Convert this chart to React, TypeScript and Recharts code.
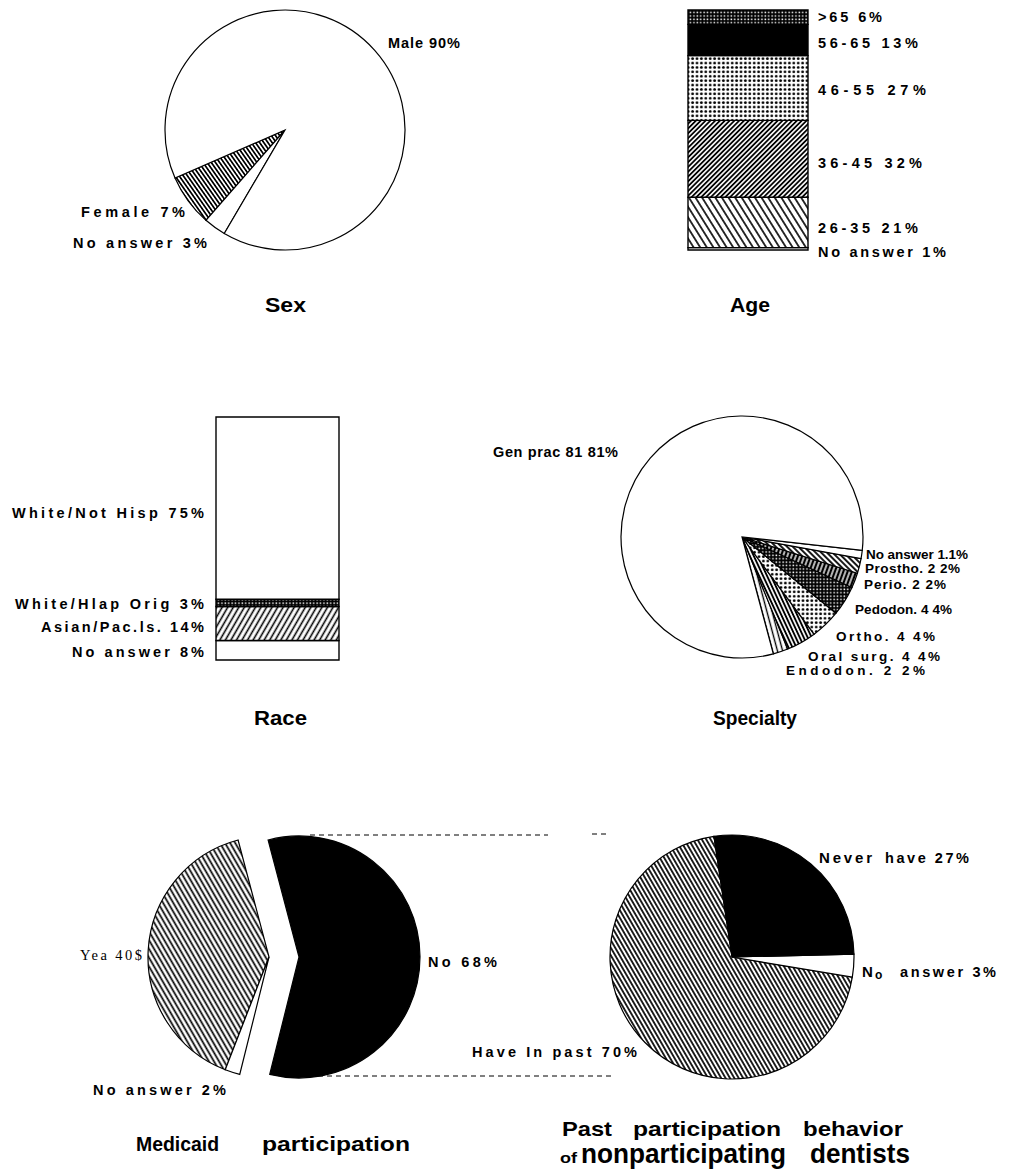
import React from 'react';
import { PieChart, Pie, Cell, BarChart, Bar, XAxis, YAxis } from 'recharts';

// ---------- DATA ----------
const sexNames = ['Female', 'No answer', 'Male'];
const sexValues = [7, 3, 90];
const sexLabels = ['Female 7%', 'No answer 3%', 'Male 90%'];

const ageGroups = ['No answer', '26-35', '36-45', '46-55', '56-65', '>65'];
const ageValues = [1, 21, 32, 27, 13, 6];
const ageLabels = ['No answer 1%', '26-35 21%', '36-45 32%', '46-55 27%', '56-65 13%', '>65 6%'];

const raceGroups = ['No answer', 'Asian/Pac.Is.', 'White/Hisp Orig', 'White/Not Hisp'];
const raceValues = [8, 14, 3, 75];
const raceLabels = ['No answer 8%', 'Asian/Pac.ls. 14%', 'White/Hlap Orig 3%', 'White/Not Hisp 75%'];

const specNames = ['Endodon.', 'Oral surg.', 'Ortho.', 'Pedodon.', 'Perio.', 'Prostho.', 'No answer', 'Gen prac'];
const specValues = [2, 4, 4, 4, 2, 2, 1.1, 81];
const specLabels = ['Endodon. 2 2%', 'Oral surg. 4 4%', 'Ortho. 4 4%', 'Pedodon. 4 4%', 'Perio. 2 2%', 'Prostho. 2 2%', 'No answer 1.1%', 'Gen prac 81 81%'];

const medNames = ['No', 'Yea', 'No answer'];
const medValues = [58, 40, 2];
const medLabels = ['No 68%', 'Yea 40$', 'No answer 2%'];

const pastNames = ['Have in past', 'No answer', 'Never have'];
const pastValues = [70, 3, 27];
const pastLabels = ['Have In past 70%', 'answer 3%', 'have 27%'];

const titles = ['Sex', 'Age', 'Race', 'Specialty', 'Medicaid', 'participation', 'Past', 'participation', 'behavior', 'of', 'nonparticipating', 'dentists'];

// ---------- STYLES ----------
const sexFills = ['url(#hSex)', '#fff', '#fff'];
const ageFills = ['#fff', 'url(#hAge2635)', 'url(#hAge3645)', 'url(#dots)', '#000', 'url(#checker)'];
const raceFills = ['#fff', 'url(#hAsian)', 'url(#checker)', '#fff'];
const specFills = ['url(#hEndo)', 'url(#hOral)', 'url(#dots)', 'url(#checker)', 'url(#hPerio)', 'url(#hPros)', '#fff', '#fff'];
const medFills = ['#000', 'url(#hYea)', '#fff'];
const pastFills = ['url(#hPast)', '#fff', '#000'];

const LBL = "'Liberation Sans', Arial, sans-serif";
const TTL = "'Liberation Sans Narrow', 'Arial Narrow', 'Liberation Sans', Arial, sans-serif";

const toRows = (names: string[], values: number[]) => names.map((n, i) => ({ name: n, value: values[i] }));
const toStack = (values: number[]) => {
  const row: Record<string, any> = { name: 'c' };
  values.forEach((v, i) => { row['s' + i] = v; });
  return [row];
};

const Hatch = ({ id, angle, gap, w }: { id: string; angle: number; gap: number; w: number }) => (
  <pattern id={id} width={gap} height={gap} patternUnits="userSpaceOnUse" patternTransform={`rotate(${angle})`}>
    <rect width={gap} height={gap} fill="#fff" />
    <line x1={gap / 2} y1={0} x2={gap / 2} y2={gap} stroke="#000" strokeWidth={w} />
  </pattern>
);

const Label = ({ x, y, text, len, anchor = 'start', size = 14.5, weight = 'bold', family = LBL }: any) => (
  <text x={x} y={y} textAnchor={anchor} fontFamily={family} fontSize={size} fontWeight={weight} fill="#000"
    textLength={len} lengthAdjust="spacing">{text}</text>
);

const Word = ({ x, y, text, len, size = 21 }: any) => (
  <text x={x} y={y} textAnchor="start" fontFamily={TTL} fontSize={size} fontWeight="bold" fill="#000"
    textLength={len} lengthAdjust="spacingAndGlyphs">{text}</text>
);

const StackBar = ({ left, top, w, h, values, fills }: any) => (
  <div style={{ position: 'absolute', left: left - 2, top: top - 2 }}>
    <BarChart width={w + 4} height={h + 4} data={toStack(values)} margin={{ top: 2, right: 2, bottom: 2, left: 2 }}
      barCategoryGap={0} barGap={0}>
      <XAxis dataKey="name" type="category" hide />
      <YAxis type="number" domain={[0, 100]} hide />
      {values.map((_: number, i: number) => (
        <Bar key={i} dataKey={'s' + i} stackId="a" fill={fills[i]} stroke="#000" strokeWidth={1.4} isAnimationActive={false} />
      ))}
    </BarChart>
  </div>
);

export default function App() {
  const sexData = toRows(sexNames, sexValues);
  const specData = toRows(specNames, specValues);
  const medData = toRows(medNames, medValues);
  const pastData = toRows(pastNames, pastValues);
  return (
    <div style={{ position: 'absolute', left: 0, top: 0, width: 1019, height: 1171, background: '#fff', overflow: 'hidden' }}>
      <svg width={0} height={0} style={{ position: 'absolute' }}>
        <defs>
          <Hatch id="hSex" angle={-35} gap={3.4} w={1.7} />
          <Hatch id="hAge2635" angle={-32} gap={5.6} w={1.6} />
          <Hatch id="hAge3645" angle={45} gap={3.4} w={1.8} />
          <Hatch id="hAsian" angle={30} gap={4.8} w={1.6} />
          <Hatch id="hYea" angle={-30} gap={4.4} w={1.7} />
          <Hatch id="hPast" angle={-30} gap={3.8} w={1.7} />
          <Hatch id="hPros" angle={-45} gap={4} w={1.8} />
          <Hatch id="hOral" angle={-25} gap={3.6} w={1.9} />
          <Hatch id="hEndo" angle={-15} gap={5} w={1.4} />
          <pattern id="hPerio" width={4} height={4} patternUnits="userSpaceOnUse" patternTransform="rotate(20)">
            <rect width={4} height={4} fill="#000" />
            <line x1={2} y1={0} x2={2} y2={4} stroke="#fff" strokeWidth={1.4} />
          </pattern>
          <pattern id="checker" width={3.4} height={3.4} patternUnits="userSpaceOnUse">
            <rect width={3.4} height={3.4} fill="#000" />
            <rect x={0.4} y={0.4} width={1.5} height={1.5} fill="#fff" />
          </pattern>
          <pattern id="dots" width={4.4} height={4.4} patternUnits="userSpaceOnUse">
            <rect width={4.4} height={4.4} fill="#fff" />
            <circle cx={2.2} cy={2.2} r={1.4} fill="#000" />
          </pattern>
        </defs>
      </svg>

      <div style={{ position: 'absolute', left: 0, top: 0 }}>
        <PieChart width={1019} height={1171} margin={{ top: 0, right: 0, bottom: 0, left: 0 }}>
          <Pie data={sexData} dataKey="value" nameKey="name" cx={285} cy={130} outerRadius={120}
            startAngle={203.6} endAngle={563.6} stroke="#000" strokeWidth={1.2} isAnimationActive={false} label={false} labelLine={false}>
            {sexData.map((_, i) => <Cell key={i} fill={sexFills[i]} stroke="#000" />)}
          </Pie>
          <Pie data={specData} dataKey="value" nameKey="name" cx={742} cy={537} outerRadius={121}
            startAngle={-75} endAngle={285} stroke="#000" strokeWidth={1.2} isAnimationActive={false} label={false} labelLine={false}>
            {specData.map((_, i) => <Cell key={i} fill={specFills[i]} stroke="#000" />)}
          </Pie>
          <Pie data={medData} dataKey="value" nameKey="name" cx={299} cy={957} outerRadius={121}
            startAngle={-104} endAngle={256} stroke="#000" strokeWidth={1.2} isAnimationActive={false} label={false} labelLine={false}>
            {medData.map((_, i) => <Cell key={i} fill={i === 0 ? medFills[i] : 'none'} stroke={i === 0 ? '#000' : 'none'} />)}
          </Pie>
          <Pie data={medData} dataKey="value" nameKey="name" cx={269} cy={957} outerRadius={121}
            startAngle={-104} endAngle={256} stroke="#000" strokeWidth={1.2} isAnimationActive={false} label={false} labelLine={false}>
            {medData.map((_, i) => <Cell key={i} fill={i === 0 ? 'none' : medFills[i]} stroke={i === 0 ? 'none' : '#000'} />)}
          </Pie>
          <Pie data={pastData} dataKey="value" nameKey="name" cx={732} cy={957} outerRadius={122}
            startAngle={98.5} endAngle={458.5} stroke="#000" strokeWidth={1.2} isAnimationActive={false} label={false} labelLine={false}>
            {pastData.map((_, i) => <Cell key={i} fill={pastFills[i]} stroke="#000" />)}
          </Pie>
        </PieChart>
      </div>

      <StackBar left={688} top={10} w={120} h={240} values={ageValues} fills={ageFills} />
      <StackBar left={216} top={417} w={123} h={243} values={raceValues} fills={raceFills} />

      <svg width={1019} height={1171} style={{ position: 'absolute', left: 0, top: 0, pointerEvents: 'none' }}>
        {/* Sex */}
        <Label x={388} y={48} text={sexLabels[2]} len={72} />
        <Label x={81} y={217} text={sexLabels[0]} len={104} />
        <Label x={73} y={248} text={sexLabels[1]} len={134} />
        <Word x={265} y={312} text={titles[0]} len={41} />

        {/* Age */}
        <Label x={818} y={22} text={ageLabels[5]} len={64} />
        <Label x={818} y={48} text={ageLabels[4]} len={100} />
        <Label x={818} y={95} text={ageLabels[3]} len={108} />
        <Label x={818} y={168} text={ageLabels[2]} len={104} />
        <Label x={818} y={233} text={ageLabels[1]} len={100} />
        <Label x={818} y={257} text={ageLabels[0]} len={128} />
        <Word x={730} y={312} text={titles[1]} len={40} />

        {/* Race */}
        <Label x={204} y={518} text={raceLabels[3]} len={192} anchor="end" />
        <Label x={204} y={609} text={raceLabels[2]} len={189} anchor="end" />
        <Label x={204} y={632} text={raceLabels[1]} len={163} anchor="end" />
        <Label x={204} y={657} text={raceLabels[0]} len={132} anchor="end" />
        <Word x={254} y={725} text={titles[2]} len={53} />

        {/* Specialty */}
        <Label x={493} y={457} text={specLabels[7]} len={125} />
        <Label x={866} y={559} text={specLabels[6]} len={102} size={13.5} />
        <Label x={865} y={573} text={specLabels[5]} len={95} size={13.5} />
        <Label x={864} y={589} text={specLabels[4]} len={82} size={13.5} />
        <Label x={855} y={614} text={specLabels[3]} len={97} size={13.5} />
        <Label x={836} y={641} text={specLabels[2]} len={99} size={13.5} />
        <Label x={808} y={661} text={specLabels[1]} len={132} size={13.5} />
        <Label x={786} y={675} text={specLabels[0]} len={139} size={13.5} />
        <Word x={713} y={725} text={titles[3]} len={84} />

        {/* Medicaid */}
        <Label x={80} y={960} text={medLabels[1]} len={62} weight="normal" family="'Liberation Serif', 'Times New Roman', serif" size={14.5} />
        <Label x={428} y={967} text={medLabels[0]} len={69} />
        <Label x={93} y={1095} text={medLabels[2]} len={133} />
        <Word x={136} y={1151} text={titles[4]} len={83} />
        <Word x={262} y={1151} text={titles[5]} len={148} />
        <g stroke="#000" strokeWidth={1} strokeDasharray="5 4" fill="none">
          <line x1={310} y1={835} x2={548} y2={835} />
          <line x1={592} y1={834} x2={606} y2={834} />
          <line x1={318} y1={1076} x2={612} y2={1076} />
        </g>

        {/* Past */}
        <text x={819} y={863} fontFamily={LBL} fontSize={15} fontWeight="900" fill="#000" textLength={53} lengthAdjust="spacing">Never</text>
        <Label x={885} y={863} text={pastLabels[2]} len={84} />
        <text x={862} y={977} fontFamily={LBL} fontSize={15} fontWeight="bold" fill="#000">N</text>
        <text x={875} y={979} fontFamily={LBL} fontSize={12} fontWeight="bold" fill="#000">o</text>
        <Label x={900} y={977} text={pastLabels[1]} len={96} />
        <Label x={472} y={1057} text={pastLabels[0]} len={165} />
        <Word x={562} y={1136} text={titles[6]} len={50} />
        <Word x={633} y={1136} text={titles[7]} len={148} />
        <Word x={803} y={1136} text={titles[8]} len={100} />
        <Word x={560} y={1163} text={titles[9]} len={17} size={15} />
        <Word x={581} y={1163} text={titles[10]} len={205} size={28} />
        <Word x={810} y={1163} text={titles[11]} len={100} size={28} />
      </svg>
    </div>
  );
}
